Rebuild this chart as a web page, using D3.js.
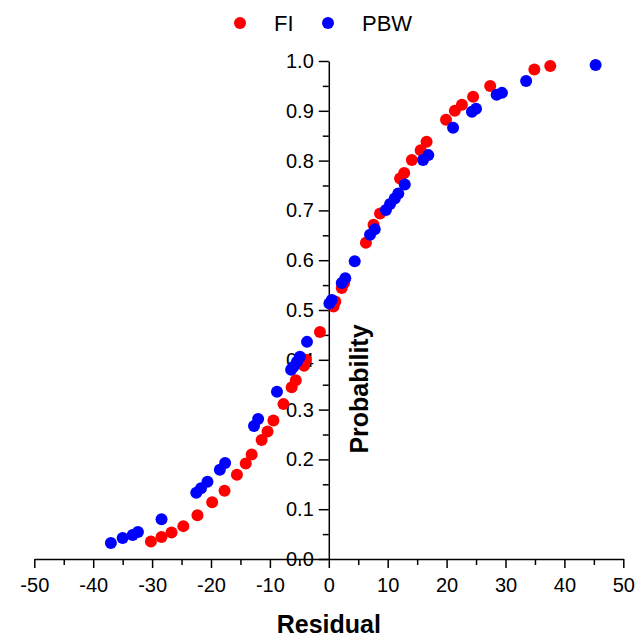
<!DOCTYPE html>
<html lang="en">
<head>
    <meta charset="UTF-8">
    <title>Residual probability plot</title>
    <style>
        body {
            margin: 0;
            background-color: white;
        }
        svg {
            display: block;
            font-family: Arial, "Liberation Sans", sans-serif;
        }
        .axis path, .axis line {
            stroke: black;
            stroke-width: 1.5px;
        }
        .axis text {
            font-size: 20px;
            fill: black;
        }
        .axis-title {
            font-size: 25px;
            font-weight: bold;
        }
        .legend text {
            font-size: 22px;
        }
    </style>
    <script src="https://d3js.org/d3.v7.min.js"></script>
</head>
<body>
<script>
    // FI series
    const fiResidual = [-30.2, -28.4, -26.7, -24.7, -22.3, -19.8, -17.7, -15.6, -14.1, -13.1,
                        -11.4, -10.4, -9.4, -7.7, -6.3, -5.6, -4.2, -3.9, -1.5, 0.8,
                        1.1, 2.2, 2.6, 6.3, 7.6, 8.7, 12.1, 12.8, 14.1, 15.6,
                        16.6, 19.9, 21.4, 22.6, 24.5, 27.4, 34.9, 37.6];
    const fiProb = [0.035, 0.044, 0.053, 0.066, 0.088, 0.114, 0.137, 0.169, 0.192, 0.210,
                    0.239, 0.256, 0.278, 0.311, 0.345, 0.359, 0.388, 0.400, 0.456, 0.507,
                    0.517, 0.544, 0.554, 0.635, 0.671, 0.694, 0.764, 0.775, 0.801, 0.821,
                    0.838, 0.882, 0.900, 0.912, 0.928, 0.950, 0.983, 0.990];

    // PBW series
    const pbwResidual = [-37.0, -35.0, -33.3, -32.4, -28.4, -22.5, -21.7, -20.6, -18.5, -17.6,
                         -12.7, -12.0, -8.8, -6.4, -6.0, -5.4, -4.9, -3.7, 0.1, 0.5,
                         2.2, 2.8, 4.4, 7.0, 7.8, 9.7, 10.4, 11.2, 11.8, 12.9,
                         16.0, 16.9, 21.1, 24.3, 25.0, 28.5, 29.4, 33.5, 45.3];
    const pbwProb = [0.032, 0.042, 0.048, 0.054, 0.080, 0.133, 0.142, 0.155, 0.179, 0.193,
                     0.267, 0.281, 0.336, 0.380, 0.386, 0.396, 0.406, 0.436, 0.513, 0.520,
                     0.554, 0.564, 0.598, 0.651, 0.662, 0.701, 0.713, 0.724, 0.734, 0.752,
                     0.801, 0.811, 0.866, 0.898, 0.904, 0.932, 0.936, 0.960, 0.992];

    const xTicks = [-50, -40, -30, -20, -10, 0, 10, 20, 30, 40, 50];
    const yTicks = [0, 0.1, 0.2, 0.3, 0.4, 0.5, 0.6, 0.7, 0.8, 0.9, 1.0];

    const series = [
        {name: "FI", color: "#ff0000", xs: fiResidual, ys: fiProb},
        {name: "PBW", color: "#0000ff", xs: pbwResidual, ys: pbwProb}
    ];

    const width = 644;
    const height = 638;

    const svg = d3.select("body")
                  .append("svg")
                  .attr("width", width)
                  .attr("height", height);

    const x = d3.scaleLinear().domain([-50, 50]).range([34.3, 623.3]);
    const y = d3.scaleLinear().domain([0, 1]).range([559, 61]);

    // minor ticks first, majors drawn on top
    const xMinor = d3.range(-45, 50, 10);
    const yMinor = d3.range(0.05, 1, 0.1);

    svg.append("g")
       .attr("class", "axis")
       .attr("transform", `translate(0,${y(0)})`)
       .call(d3.axisBottom(x).tickValues(xMinor).tickSize(6).tickFormat(""))
       .select(".domain").remove();

    svg.append("g")
       .attr("class", "axis")
       .attr("transform", `translate(${x(0)},0)`)
       .call(d3.axisLeft(y).tickValues(yMinor).tickSize(6).tickFormat(""))
       .select(".domain").remove();

    svg.append("g")
       .attr("class", "axis")
       .attr("transform", `translate(0,${y(0)})`)
       .call(d3.axisBottom(x)
               .tickValues(xTicks)
               .tickSize(9)
               .tickSizeOuter(0)
               .tickPadding(10)
               .tickFormat(d => String(d)));

    svg.append("g")
       .attr("class", "axis")
       .attr("transform", `translate(${x(0)},0)`)
       .call(d3.axisLeft(y)
               .tickValues(yTicks)
               .tickSize(10)
               .tickSizeOuter(0)
               .tickPadding(5)
               .tickFormat(d3.format(".1f")));

    // axis titles
    svg.append("text")
       .attr("class", "axis-title")
       .attr("x", x(0))
       .attr("y", 633)
       .attr("text-anchor", "middle")
       .text("Residual");

    svg.append("text")
       .attr("class", "axis-title")
       .attr("transform", `translate(368,389) rotate(-90)`)
       .attr("text-anchor", "middle")
       .text("Probability");

    // points
    series.forEach(s => {
        svg.append("g")
           .selectAll("circle")
           .data(s.xs.map((v, i) => [v, s.ys[i]]))
           .enter()
           .append("circle")
           .attr("cx", d => x(d[0]))
           .attr("cy", d => y(d[1]))
           .attr("r", 6)
           .attr("fill", s.color);
    });

    // legend
    const legend = svg.append("g").attr("class", "legend");
    const legendX = [240, 328];
    series.forEach((s, i) => {
        legend.append("circle")
              .attr("cx", legendX[i])
              .attr("cy", 23)
              .attr("r", 6)
              .attr("fill", s.color);
        legend.append("text")
              .attr("x", legendX[i] + 34)
              .attr("y", 31)
              .text(s.name);
    });
</script>
</body>
</html>
